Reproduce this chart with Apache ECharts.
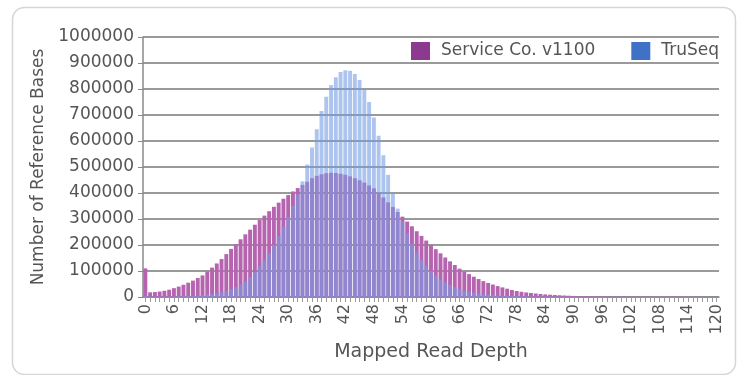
<!DOCTYPE html>
<html>
<head>
<meta charset="utf-8">
<script src="https://cdn.jsdelivr.net/npm/echarts@6/dist/echarts.min.js"></script>
<style>
html,body{margin:0;padding:0;background:#fff;}
#chart{width:741px;height:375px;}
</style>
</head>
<body>
<div id="chart"></div>
<script>
// Mapped read depth categories 0..120
const depths = [];
for (let i = 0; i <= 120; i++) depths.push(String(i));

const seriesNames = ['Service Co. v1100', 'TruSeq'];

const serviceCo = [
  110000, 18000, 19000, 21000, 24000, 28000, 34000, 40000, 47000, 55000,
  63000, 73000, 83000, 98000, 113000, 129000, 146000, 165000, 185000, 203000,
  222000, 241000, 259000, 278000, 296000, 313000, 330000, 347000, 363000, 378000,
  392000, 406000, 419000, 431000, 443000, 457000, 466000, 472000, 476000, 478000,
  477000, 474000, 470000, 464000, 457000, 449000, 440000, 429000, 418000, 401000,
  383000, 364000, 346000, 327000, 309000, 290000, 272000, 253000, 235000, 217000,
  200000, 184000, 168000, 152000, 137000, 123000, 109000, 98000, 88000, 78000,
  69000, 61000, 54000, 48000, 42000, 37000, 32000, 27000, 23000, 20000,
  17500, 15500, 13500, 11500, 10000, 8800, 7700, 6700, 5800, 4900,
  4200, 3700, 3300, 2900, 2600, 2300, 2100, 1900, 1800, 1700,
  1600, 1500, 1400, 1300, 1200, 1150, 1100, 1000, 950, 900,
  850, 800, 750, 700, 680, 650, 620, 600, 580, 550,
  520
];

const truSeq = [
  4000, 1000, 1000, 1200, 1400, 1700, 2000, 2500, 3000, 3700,
  4600, 5800, 7300, 9200, 11500, 14500, 18500, 23500, 30000, 38000,
  48000, 61000, 77000, 96000, 118000, 142000, 170000, 200000, 234000, 270000,
  308000, 350000, 395000, 445000, 510000, 575000, 645000, 715000, 770000, 815000,
  845000, 865000, 872000, 870000, 858000, 835000, 800000, 750000, 690000, 620000,
  545000, 470000, 400000, 340000, 290000, 245000, 205000, 172000, 144000, 120000,
  100000, 83000, 68000, 56000, 46000, 38000, 31000, 25000, 20500, 16500,
  13500, 11000, 9000, 7400, 6000, 4900, 4000, 3300, 2700, 2300,
  2000, 1800, 1600, 1500, 1400, 1300, 1200, 1100, 1000, 950,
  900, 850, 800, 750, 700, 650, 600, 580, 560, 540,
  520, 500, 480, 460, 440, 420, 400, 390, 380, 370,
  360, 350, 340, 330, 320, 310, 300, 290, 280, 270,
  260
];

const yMin = 0, yMax = 1000000, yStep = 100000;

const chart = echarts.init(document.getElementById('chart'), null, {renderer: 'canvas'});
const txt = '#555';
const font = 'DejaVu Sans';
chart.setOption({
  animation: false,
  backgroundColor: '#fff',
  graphic: [{
    type: 'rect', left: 10, top: 5, z: -10,
    shape: {width: 723, height: 367, r: 12},
    style: {fill: 'none', stroke: '#d6d6d6', lineWidth: 1.5}
  }],
  legend: {
    data: [
      {name: seriesNames[0], itemStyle: {color: '#8b3a8f'}},
      {name: seriesNames[1], itemStyle: {color: '#3f72c6'}}
    ],
    right: 18, top: 41,
    itemWidth: 19, itemHeight: 18, itemGap: 36,
    backgroundColor: '#fff',
    padding: [1, 4, 1, 6],
    textStyle: {fontFamily: font, fontSize: 17, color: txt, padding: [0, 0, 0, 6]},
    icon: 'rect'
  },
  grid: {left: 143, right: 22, top: 37, bottom: 78},
  xAxis: {
    type: 'category',
    data: depths,
    boundaryGap: true,
    name: 'Mapped Read Depth',
    nameLocation: 'middle',
    nameGap: 45,
    nameTextStyle: {fontFamily: font, fontSize: 19, color: txt},
    axisLine: {lineStyle: {color: '#8a8a8a', width: 1.5}},
    axisTick: {show: true, interval: 0, alignWithLabel: true, length: 5, lineStyle: {color: '#9a9a9a'}},
    axisLabel: {interval: 5, rotate: 90, fontFamily: font, fontSize: 16, color: txt, margin: 7}
  },
  yAxis: {
    type: 'value',
    min: yMin, max: yMax, interval: yStep,
    name: 'Number of Reference Bases',
    nameLocation: 'middle',
    nameGap: 88,
    nameTextStyle: {fontFamily: font, fontSize: 17, color: txt},
    axisLine: {show: true, lineStyle: {color: '#8a8a8a', width: 1.5}},
    axisTick: {show: true, length: 5, lineStyle: {color: '#8a8a8a'}},
    splitLine: {lineStyle: {color: '#9a9a9a', width: 2}},
    axisLabel: {fontFamily: font, fontSize: 17, color: txt, margin: 9, formatter: v => String(v)}
  },
  series: [
    {
      name: seriesNames[0], type: 'bar', data: serviceCo,
      barGap: '-100%', barCategoryGap: '18%',
      itemStyle: {color: '#b664b0'},
      z: 2
    },
    {
      name: seriesNames[1], type: 'bar', data: truSeq,
      barGap: '-100%', barCategoryGap: '18%',
      itemStyle: {color: 'rgba(118,156,228,0.6)'},
      z: 3
    }
  ]
});
</script>
</body>
</html>
